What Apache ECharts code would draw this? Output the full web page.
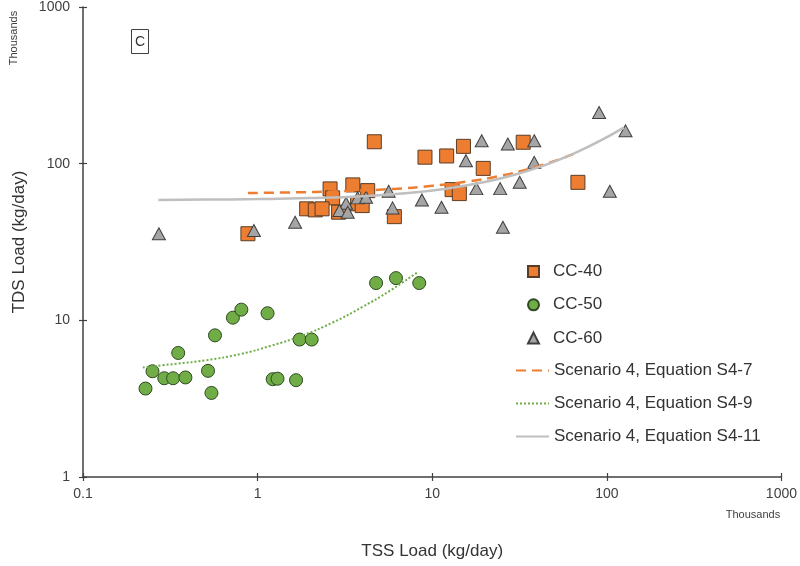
<!DOCTYPE html>
<html><head><meta charset="utf-8">
<script src="https://cdn.jsdelivr.net/npm/echarts@6/dist/echarts.min.js"></script>
<style>html,body{margin:0;padding:0;background:#fff}#c{width:800px;height:566px}</style>
</head><body><div id="c"></div>
<script>
// CC-40 (TSS load, TDS load; both in thousands kg/day)
const cc40X = [0.88, 2.60, 3.51, 4.27, 2.69, 1.91, 2.14, 2.34, 2.91, 3.74, 3.97, 6.07, 4.66, 9.09, 12.1, 15.1, 33.2, 19.6, 13.0, 14.3, 68.3];
const cc40Y = [35.7, 69.0, 73.2, 67.3, 60.5, 51.5, 50.7, 51.5, 49.0, 55.4, 54.0, 45.9, 138, 110, 112, 129, 137, 93.3, 68.3, 64.4, 76.0];
// CC-50
const cc50X = [0.228, 0.250, 0.292, 0.328, 0.386, 0.351, 0.520, 0.544, 0.570, 0.722, 0.807, 1.14, 1.22, 1.30, 1.66, 1.74, 2.04, 4.77, 6.20, 8.43];
const cc50Y = [3.67, 4.73, 4.27, 4.27, 4.32, 6.19, 4.76, 3.44, 8.02, 10.4, 11.7, 11.1, 4.21, 4.24, 4.15, 7.54, 7.54, 17.3, 18.6, 17.3];
// CC-60
const cc60X = [0.272, 0.952, 1.64, 5.63, 3.21, 3.74, 4.18, 2.94, 3.28, 5.93, 8.73, 11.3, 15.6, 19.2, 27.1, 38.4, 38.4, 17.9, 24.5, 31.7, 25.4, 90.3, 128, 104];
const cc60Y = [35.7, 37.4, 42.3, 66.6, 55.9, 60.5, 61.0, 50.2, 49.0, 52.2, 58.7, 52.7, 104.5, 140, 133.5, 140, 101.9, 69.3, 69.3, 76.0, 39.3, 212, 162, 66.6];
// Trend curves
const s47X = [0.88, 1.5, 3, 6, 10, 16, 25, 35, 48, 66];
const s47Y = [65, 65.5, 66.7, 69, 72.2, 77, 84, 92, 102.2, 116.4];
const s49X = [0.22, 0.35, 0.5, 0.8, 1.2, 1.8, 2.7, 4, 5.7, 8.3];
const s49Y = [5.0, 5.3, 5.55, 6.1, 6.9, 8.0, 9.7, 12.2, 15.4, 20.4];
const s411X = [0.27, 0.5, 1, 2, 4, 7, 12, 20, 30, 45, 65, 90, 125];
const s411Y = [58.7, 59, 59.4, 60.3, 62, 64.7, 69.2, 76.3, 85.2, 98.6, 116.4, 138.6, 170];

const zip = (a, b) => a.map((v, i) => [v, b[i]]);
const FONT = '"Liberation Sans", Arial, sans-serif';
const AX = '#404040';
const fmt = v => String(+(+v).toPrecision(6));

const chart = echarts.init(document.getElementById('c'), null, {renderer: 'canvas'});
const baseX = {type: 'log', logBase: 10, min: 0.1, max: 1000, gridIndex: 0, splitLine: {show: false}};
const baseY = {type: 'log', logBase: 10, min: 1, max: 1000, gridIndex: 0, splitLine: {show: false}};
chart.setOption({
  animation: false,
  backgroundColor: '#fff',
  grid: {left: 83, right: 17, top: 6, bottom: 89, containLabel: false},
  xAxis: [
    Object.assign({}, baseX, {
      position: 'bottom',
      name: 'TSS Load (kg/day)', nameLocation: 'middle', nameGap: 66,
      nameTextStyle: {fontFamily: FONT, fontSize: 17, color: '#333'},
      axisLine: {show: true, lineStyle: {color: AX, width: 1.5}},
      axisTick: {show: true, inside: false, length: 4, lineStyle: {color: AX, width: 1.2}},
      axisLabel: {fontFamily: FONT, fontSize: 14, color: '#404040', margin: 10, formatter: fmt}
    }),
    Object.assign({}, baseX, {
      position: 'bottom',
      axisLine: {show: false},
      axisTick: {show: true, inside: true, length: 4, lineStyle: {color: AX, width: 1.2}},
      axisLabel: {show: false}
    })
  ],
  yAxis: [
    Object.assign({}, baseY, {
      position: 'left',
      name: 'TDS Load (kg/day)', nameLocation: 'middle', nameGap: 53,
      nameTextStyle: {fontFamily: FONT, fontSize: 17, color: '#333'},
      axisLine: {show: true, lineStyle: {color: AX, width: 1.5}},
      axisTick: {show: true, inside: false, length: 4, lineStyle: {color: AX, width: 1.2}},
      axisLabel: {fontFamily: FONT, fontSize: 14, color: '#404040', margin: 13, formatter: fmt}
    }),
    Object.assign({}, baseY, {
      position: 'left',
      axisLine: {show: false},
      axisTick: {show: true, inside: true, length: 4, lineStyle: {color: AX, width: 1.2}},
      axisLabel: {show: false}
    })
  ],
  legend: [
    {
      data: ['CC-40', 'CC-50', 'CC-60'],
      orient: 'vertical', left: 527, top: 261.5, padding: 0,
      itemWidth: 11, itemHeight: 11, itemGap: 13.3,
      textStyle: {fontFamily: FONT, fontSize: 17, color: '#333', lineHeight: 20, padding: [0, 0, 0, 9]}
    },
    {
      data: ['Scenario 4, Equation S4-7', 'Scenario 4, Equation S4-9', 'Scenario 4, Equation S4-11'],
      orient: 'vertical', left: 515, top: 360.5, padding: 0,
      itemWidth: 33, itemHeight: 10, itemGap: 13,
      itemStyle: {opacity: 0},
      textStyle: {fontFamily: FONT, fontSize: 17, color: '#333', lineHeight: 20}
    }
  ],
  graphic: [
    {type: 'rect', shape: {x: 131.5, y: 29.5, width: 17, height: 24},
     style: {fill: '#fff', stroke: '#404040', lineWidth: 1}},
    {type: 'text', x: 140, y: 42,
     style: {text: 'C', font: '14px ' + FONT, fill: '#333', align: 'center', verticalAlign: 'middle'}},
    {type: 'text', x: 14, y: 38, rotation: Math.PI / 2,
     style: {text: 'Thousands', font: '11px ' + FONT, fill: '#404040', align: 'center', verticalAlign: 'middle'}},
    {type: 'text', x: 753, y: 515,
     style: {text: 'Thousands', font: '11px ' + FONT, fill: '#404040', align: 'center', verticalAlign: 'middle'}}
  ],
  series: [
    {name: 'CC-40', type: 'scatter', symbol: 'rect', symbolSize: 14, data: zip(cc40X, cc40Y),
     itemStyle: {color: '#ED7D31', borderColor: '#5a3d26', borderWidth: 1, opacity: 1}, z: 2},
    {name: 'CC-50', type: 'scatter', symbol: 'circle', symbolSize: 13, data: zip(cc50X, cc50Y),
     itemStyle: {color: '#70AD47', borderColor: '#2f4a22', borderWidth: 1, opacity: 1}, z: 2},
    {name: 'CC-60', type: 'scatter', symbol: 'triangle', symbolSize: [13, 12], data: zip(cc60X, cc60Y),
     itemStyle: {color: '#A5A5A5', borderColor: '#3f3f3f', borderWidth: 1, opacity: 1}, z: 3},
    {name: 'Scenario 4, Equation S4-7', type: 'line', symbol: 'none', smooth: true, data: zip(s47X, s47Y),
     lineStyle: {color: '#ED7D31', width: 2.5, type: [10, 6]}, itemStyle: {color: '#ED7D31'}, z: 4},
    {name: 'Scenario 4, Equation S4-9', type: 'line', symbol: 'none', smooth: true, data: zip(s49X, s49Y),
     lineStyle: {color: '#70AD47', width: 2, type: [2, 2]}, itemStyle: {color: '#70AD47'}, z: 4},
    {name: 'Scenario 4, Equation S4-11', type: 'line', symbol: 'none', smooth: true, data: zip(s411X, s411Y),
     lineStyle: {color: '#BFBFBF', width: 2.5, type: 'solid'}, itemStyle: {color: '#BFBFBF'}, z: 4}
  ]
});
</script>
</body></html>
